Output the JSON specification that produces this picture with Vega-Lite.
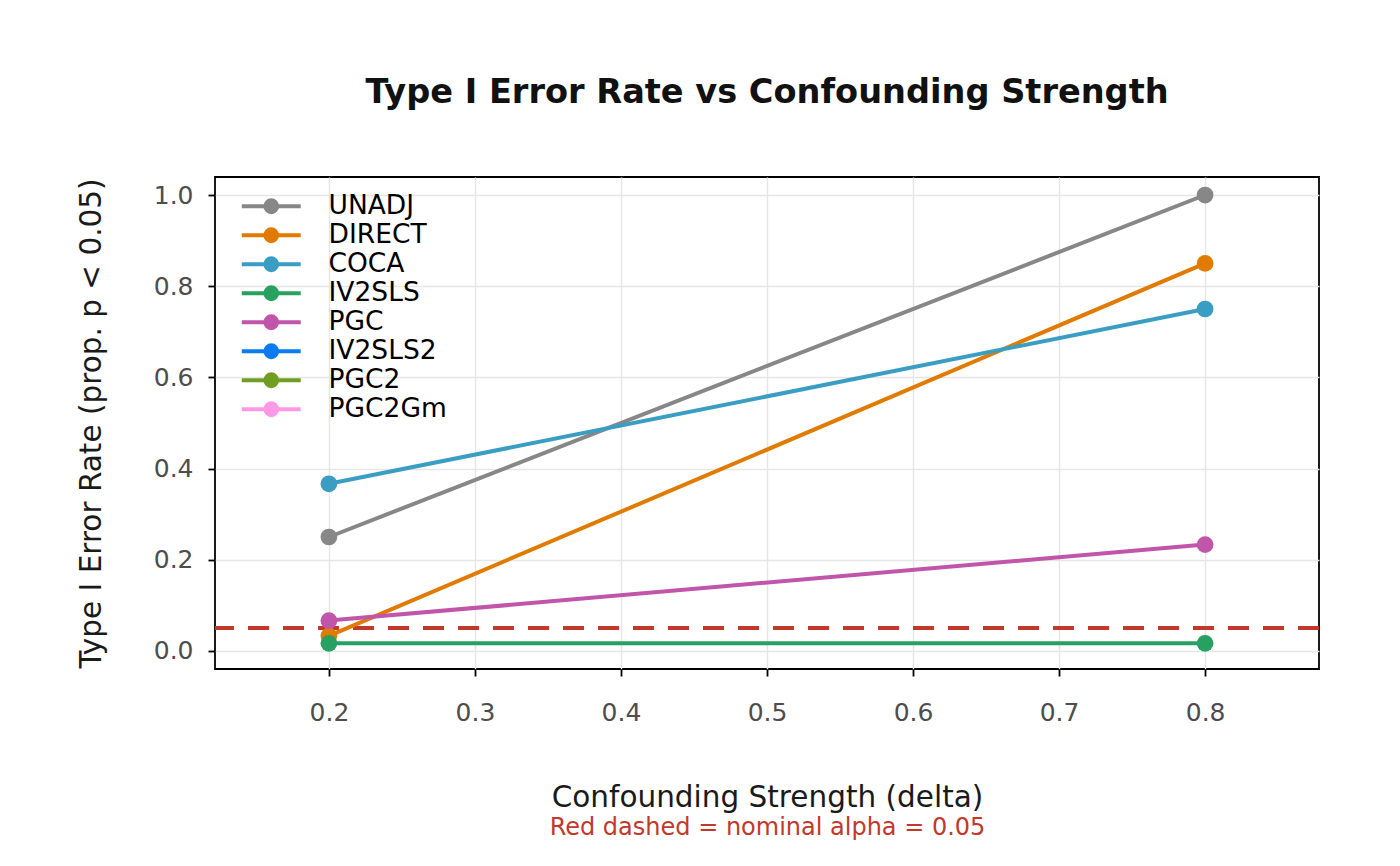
{
  "$schema": "https://vega.github.io/schema/vega-lite/v6.json",
  "autosize": "none",
  "padding": {"left": 215, "top": 177, "right": 81, "bottom": 197},
  "width": 1104,
  "height": 492,
  "background": "white",
  "config": {
    "font": "DejaVu Sans",
    "view": {"stroke": "black", "strokeWidth": 1.8},
    "axis": {
      "labelFont": "DejaVu Sans",
      "titleFont": "DejaVu Sans",
      "labelFontSize": 25,
      "labelColor": "#4d4d4d",
      "titleFontSize": 29.5,
      "titleFontWeight": "normal",
      "titleColor": "#1a1a1a",
      "tickColor": "black",
      "tickSize": 7,
      "tickWidth": 1.8,
      "domain": false,
      "grid": true,
      "gridColor": "#e6e6e6",
      "gridWidth": 1.4
    }
  },
  "title": {
    "text": "Type I Error Rate vs Confounding Strength",
    "fontSize": 33.6,
    "fontWeight": "bold",
    "font": "DejaVu Sans",
    "color": "#111111",
    "anchor": "middle",
    "offset": 67
  },
  "data": {
    "values": [
      {"method": "UNADJ", "delta": 0.2, "rate": 0.25},
      {"method": "UNADJ", "delta": 0.8, "rate": 1.0},
      {"method": "DIRECT", "delta": 0.2, "rate": 0.0333},
      {"method": "DIRECT", "delta": 0.8, "rate": 0.85},
      {"method": "COCA", "delta": 0.2, "rate": 0.3667},
      {"method": "COCA", "delta": 0.8, "rate": 0.75},
      {"method": "IV2SLS", "delta": 0.2, "rate": 0.0167},
      {"method": "IV2SLS", "delta": 0.8, "rate": 0.0167},
      {"method": "PGC", "delta": 0.2, "rate": 0.0667},
      {"method": "PGC", "delta": 0.8, "rate": 0.2333}
    ]
  },
  "layer": [
    {
      "layer": [
        {
          "mark": {"type": "rule", "color": "#c0392b", "strokeWidth": 3.5, "strokeDash": [21, 14]},
          "encoding": {"y": {"datum": 0.05, "type": "quantitative"}}
        },
        {
          "mark": {"type": "line", "strokeWidth": 4},
          "encoding": {
            "x": {
              "field": "delta",
              "type": "quantitative",
              "scale": {"domain": [0.122, 0.878], "nice": false, "zero": false},
              "axis": {
                "values": [0.2, 0.3, 0.4, 0.5, 0.6, 0.7, 0.8],
                "format": ".1f",
                "labelPadding": 24,
                "title": "Confounding Strength (delta)",
                "titlePadding": 58
              }
            },
            "y": {
              "field": "rate",
              "type": "quantitative",
              "scale": {"domain": [-0.0395, 1.0395], "nice": false, "zero": false},
              "axis": {
                "values": [0, 0.2, 0.4, 0.6, 0.8, 1.0],
                "format": ".1f",
                "labelPadding": 15,
                "title": "Type I Error Rate (prop. p < 0.05)",
                "titlePadding": 47
              }
            },
            "color": {
              "field": "method",
              "type": "nominal",
              "sort": null,
              "scale": {
                "domain": ["UNADJ", "DIRECT", "COCA", "IV2SLS", "PGC", "IV2SLS2", "PGC2", "PGC2Gm"],
                "range": ["#878787", "#e07b00", "#3a9dc4", "#27a060", "#c055aa", "#0a7cf0", "#6f9e23", "#ff99e6"]
              },
              "legend": {
                "title": null,
                "orient": "none",
                "legendX": 43,
                "legendY": 16,
                "symbolType": "M -5 0 L 5 0 M 1 0 A 1 1 0 1 1 -1 0 A 1 1 0 1 1 1 0",
                "symbolSize": 139,
                "symbolStrokeWidth": 4,
                "symbolOpacity": 1,
                "labelFontSize": 26.5,
                "labelColor": "black",
                "labelOffset": 44,
                "rowPadding": 0,
                "padding": 0
              }
            },
            "detail": {"field": "method"}
          }
        },
        {
          "mark": {"type": "point", "filled": true, "size": 280, "opacity": 1},
          "encoding": {
            "x": {"field": "delta", "type": "quantitative"},
            "y": {"field": "rate", "type": "quantitative"},
            "color": {"field": "method", "type": "nominal", "sort": null}
          }
        }
      ]
    },
    {
      "mark": {"type": "point", "opacity": 0},
      "encoding": {
        "x": {
          "field": "delta",
          "type": "quantitative",
          "scale": {"domain": [0.122, 0.878], "nice": false, "zero": false},
          "axis": {
            "orient": "bottom",
            "labels": false,
            "ticks": false,
            "grid": false,
            "domain": false,
            "title": "Red dashed = nominal alpha = 0.05",
            "titleColor": "#c0392b",
            "titleFontSize": 24,
            "titlePadding": 146
          }
        },
        "y": {"field": "rate", "type": "quantitative"}
      }
    }
  ],
  "resolve": {"scale": {"x": "independent"}, "axis": {"x": "independent"}}
}
